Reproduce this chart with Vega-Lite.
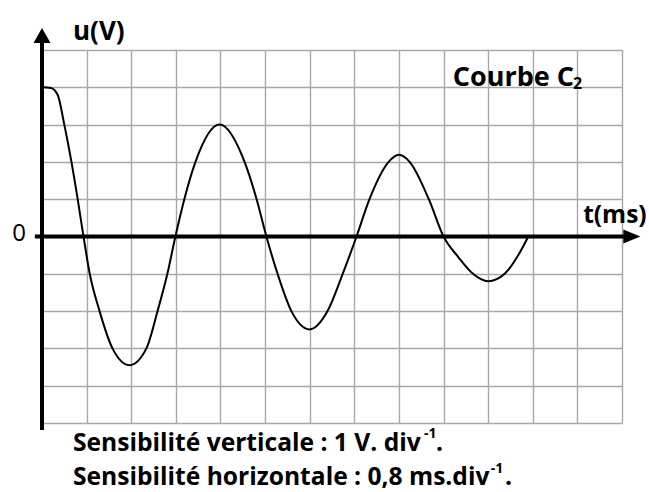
{
  "$schema": "https://vega.github.io/schema/vega-lite/v6.json",
  "width": 580,
  "height": 373,
  "autosize": {"type": "none"},
  "padding": {"left": 42, "top": 50, "right": 27, "bottom": 69},
  "background": "white",
  "config": {
    "view": {"stroke": null},
    "axisX": {"tickCount": 13, "grid": true, "labels": false, "ticks": false, "domain": false, "gridColor": "#a8a8a8", "gridWidth": 1.4, "gridOpacity": 1},
    "axisY": {"tickCount": 10, "grid": true, "labels": false, "ticks": false, "domain": false, "gridColor": "#a8a8a8", "gridWidth": 1.4, "gridOpacity": 1},
    "text": {"font": "Open Sans", "fontWeight": "bold", "color": "black", "align": "left", "baseline": "alphabetic"}
  },
  "datasets": {
    "curve": [
      {"t_div": 0, "u": 4}, {"t_div": 0.2, "u": 3.98}, {"t_div": 0.35, "u": 3.8}, {"t_div": 0.5, "u": 3},
      {"t_div": 0.66, "u": 2}, {"t_div": 0.8, "u": 1}, {"t_div": 0.93, "u": 0}, {"t_div": 1.07, "u": -1},
      {"t_div": 1.29, "u": -2}, {"t_div": 1.58, "u": -3}, {"t_div": 1.96, "u": -3.45}, {"t_div": 2.34, "u": -3},
      {"t_div": 2.59, "u": -2}, {"t_div": 2.81, "u": -1}, {"t_div": 2.99, "u": 0}, {"t_div": 3.19, "u": 1},
      {"t_div": 3.44, "u": 2}, {"t_div": 3.98, "u": 3}, {"t_div": 4.54, "u": 2}, {"t_div": 4.81, "u": 1},
      {"t_div": 5.03, "u": 0}, {"t_div": 5.28, "u": -1}, {"t_div": 5.59, "u": -2}, {"t_div": 6.0, "u": -2.49},
      {"t_div": 6.4, "u": -2}, {"t_div": 6.74, "u": -1}, {"t_div": 7.05, "u": 0}, {"t_div": 7.34, "u": 1},
      {"t_div": 7.77, "u": 2}, {"t_div": 8.0, "u": 2.19}, {"t_div": 8.24, "u": 2}, {"t_div": 8.67, "u": 1},
      {"t_div": 9.0, "u": 0}, {"t_div": 9.33, "u": -0.55}, {"t_div": 9.66, "u": -1}, {"t_div": 10.0, "u": -1.2},
      {"t_div": 10.37, "u": -1}, {"t_div": 10.7, "u": -0.45}, {"t_div": 10.9, "u": 0}
    ],
    "one": [{}]
  },
  "layer": [
    {
      "data": {"name": "curve"},
      "mark": {"type": "line", "interpolate": "monotone", "color": "black", "strokeWidth": 2},
      "encoding": {
        "x": {"field": "t_div", "type": "quantitative", "scale": {"domain": [0, 13], "nice": false, "zero": false}, "axis": {"title": null}},
        "y": {"field": "u", "type": "quantitative", "scale": {"domain": [-5, 5], "nice": false}, "axis": {"title": null}}
      }
    },
    {
      "data": {"name": "one"},
      "mark": {"type": "rule", "color": "black", "strokeWidth": 4},
      "encoding": {"x": {"datum": 0, "type": "quantitative", "axis": {"title": null}}, "y": {"datum": -5.19, "type": "quantitative", "axis": {"title": null}}, "y2": {"datum": 5.3}}
    },
    {
      "data": {"name": "one"},
      "mark": {"type": "rule", "color": "black", "strokeWidth": 4},
      "encoding": {"x": {"datum": -0.16, "type": "quantitative", "axis": {"title": null}}, "x2": {"datum": 13.1}, "y": {"datum": 0, "type": "quantitative", "axis": {"title": null}}}
    },
    {
      "data": {"name": "one"},
      "mark": {"type": "point", "shape": "M-1,0.88L0,-0.88L1,0.88Z", "size": 289, "filled": true, "color": "black", "opacity": 1},
      "encoding": {"x": {"datum": 0, "type": "quantitative", "axis": {"title": null}}, "y": {"datum": 5.39, "type": "quantitative", "axis": {"title": null}}}
    },
    {
      "data": {"name": "one"},
      "mark": {"type": "point", "shape": "M-1,-0.82L1,0L-1,0.82Z", "size": 289, "filled": true, "color": "black", "opacity": 1},
      "encoding": {"x": {"datum": 13.22, "type": "quantitative", "axis": {"title": null}}, "y": {"datum": 0, "type": "quantitative", "axis": {"title": null}}}
    },
    {
      "data": {"name": "one"},
      "mark": {"type": "text", "text": "u(V)", "fontSize": 26},
      "encoding": {"x": {"datum": 0.695, "type": "quantitative", "axis": {"title": null}}, "y": {"datum": 5.27, "type": "quantitative", "axis": {"title": null}}}
    },
    {
      "data": {"name": "one"},
      "mark": {"type": "text", "text": "t(ms)", "fontSize": 24.5},
      "encoding": {"x": {"datum": 12.13, "type": "quantitative", "axis": {"title": null}}, "y": {"datum": 0.36, "type": "quantitative", "axis": {"title": null}}}
    },
    {
      "data": {"name": "one"},
      "mark": {"type": "text", "text": "0", "fontSize": 24, "fontWeight": "normal", "align": "right", "baseline": "middle"},
      "encoding": {"x": {"datum": -0.36, "type": "quantitative", "axis": {"title": null}}, "y": {"datum": 0.07, "type": "quantitative", "axis": {"title": null}}}
    },
    {
      "data": {"name": "one"},
      "mark": {"type": "text", "text": "Courbe C", "fontSize": 27},
      "encoding": {"x": {"datum": 9.206, "type": "quantitative", "axis": {"title": null}}, "y": {"datum": 4.04, "type": "quantitative", "axis": {"title": null}}}
    },
    {
      "data": {"name": "one"},
      "mark": {"type": "text", "text": "2", "fontSize": 16},
      "encoding": {"x": {"datum": 11.9, "type": "quantitative", "axis": {"title": null}}, "y": {"datum": 3.954, "type": "quantitative", "axis": {"title": null}}}
    },
    {
      "data": {"name": "one"},
      "mark": {"type": "text", "text": "Sensibilité verticale : 1 V. div", "fontSize": 24.6},
      "encoding": {"x": {"datum": 0.695, "type": "quantitative", "axis": {"title": null}}, "y": {"datum": -5.75, "type": "quantitative", "axis": {"title": null}}}
    },
    {
      "data": {"name": "one"},
      "mark": {"type": "text", "text": "-1", "fontSize": 14},
      "encoding": {"x": {"datum": 8.56, "type": "quantitative", "axis": {"title": null}}, "y": {"datum": -5.402, "type": "quantitative", "axis": {"title": null}}}
    },
    {
      "data": {"name": "one"},
      "mark": {"type": "text", "text": ".", "fontSize": 24.6},
      "encoding": {"x": {"datum": 8.83, "type": "quantitative", "axis": {"title": null}}, "y": {"datum": -5.75, "type": "quantitative", "axis": {"title": null}}}
    },
    {
      "data": {"name": "one"},
      "mark": {"type": "text", "text": "Sensibilité horizontale : 0,8 ms.div", "fontSize": 24.6},
      "encoding": {"x": {"datum": 0.695, "type": "quantitative", "axis": {"title": null}}, "y": {"datum": -6.662, "type": "quantitative", "axis": {"title": null}}}
    },
    {
      "data": {"name": "one"},
      "mark": {"type": "text", "text": "-1", "fontSize": 14},
      "encoding": {"x": {"datum": 10.06, "type": "quantitative", "axis": {"title": null}}, "y": {"datum": -6.341, "type": "quantitative", "axis": {"title": null}}}
    },
    {
      "data": {"name": "one"},
      "mark": {"type": "text", "text": ".", "fontSize": 24.6},
      "encoding": {"x": {"datum": 10.377, "type": "quantitative", "axis": {"title": null}}, "y": {"datum": -6.662, "type": "quantitative", "axis": {"title": null}}}
    }
  ]
}
